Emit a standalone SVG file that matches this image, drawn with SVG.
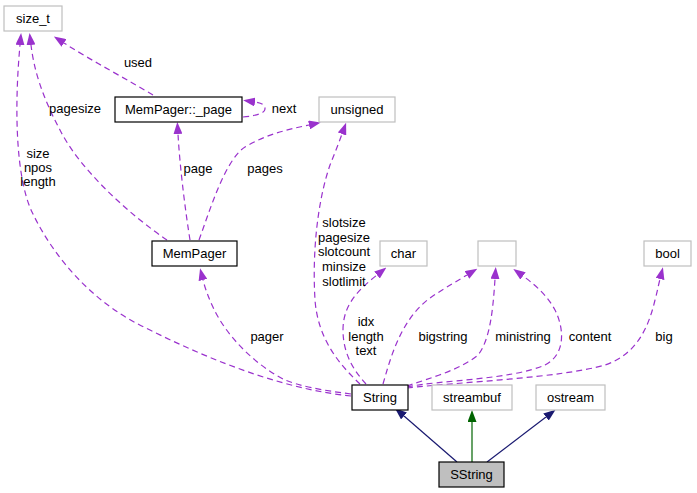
<svg xmlns="http://www.w3.org/2000/svg" width="697" height="493" viewBox="0 0 697 493">
<style>
text{font-family:"Liberation Sans",Arial,sans-serif;font-size:13px;fill:#000;text-anchor:middle}
.ext{fill:#fff;stroke:#bfbfbf;stroke-width:1.2}
.cls{fill:#fff;stroke:#000;stroke-width:1.2}
.cur{fill:#bfbfbf;stroke:#000;stroke-width:1.2}
.use{fill:none;stroke:#9a32cd;stroke-width:1.2;stroke-dasharray:6,4;marker-end:url(#ap)}
.pub{fill:none;stroke:#191970;stroke-width:1.2;marker-end:url(#an)}
.prot{fill:none;stroke:#006400;stroke-width:1.2;marker-end:url(#ag)}
</style>
<defs>
<marker id="ap" viewBox="0 0 12 9" refX="0" refY="4.5" markerWidth="12" markerHeight="9" markerUnits="userSpaceOnUse" orient="auto"><path d="M0,0 L12,4.5 L0,9 z" fill="#9a32cd"/></marker>
<marker id="an" viewBox="0 0 12 9" refX="0" refY="4.5" markerWidth="12" markerHeight="9" markerUnits="userSpaceOnUse" orient="auto"><path d="M0,0 L12,4.5 L0,9 z" fill="#191970"/></marker>
<marker id="ag" viewBox="0 0 12 9" refX="0" refY="4.5" markerWidth="12" markerHeight="9" markerUnits="userSpaceOnUse" orient="auto"><path d="M0,0 L12,4.5 L0,9 z" fill="#006400"/></marker>
</defs>
<rect width="697" height="493" fill="#fff"/>
<g id="edges">
<path class="use" d="M351,396 C290,390 220,365 150,330 C95,305 55,260 32,212 C16,178 14,110 20,45"/>
<path class="use" d="M167,240 C130,215 80,170 60,130 C42,96 34,70 31,45"/>
<path class="use" d="M153,95 C130,81 92,61 64,43"/>
<path class="use" d="M243,117 C256,116 265,113 265,109 C265,105 262,103 255,102"/>
<path class="use" d="M190,240 C186,215 180,170 178,134"/>
<path class="use" d="M199,240 C210,210 225,160 245,147 C265,135 285,130 309,125"/>
<path class="use" d="M360,384 C340,365 318,340 315,300 C312,250 318,200 330,165 C334,155 338,145 342,134"/>
<path class="use" d="M366,384 C355,372 343,355 343,330 C343,305 358,290 377,275"/>
<path class="use" d="M351,394 C320,390 300,386 285,380 C255,365 225,335 212,305 C208,296 205,288 203,280"/>
<path class="use" d="M383,384 C390,360 400,320 430,298 C440,291 452,284 467,275"/>
<path class="use" d="M407,386 C430,378 460,370 478,355 C490,340 493,310 495,279"/>
<path class="use" d="M407,387 C440,380 510,380 545,365 C565,355 565,330 555,310 C548,297 538,287 523,276"/>
<path class="use" d="M407,388 C460,382 560,378 605,365 C635,355 648,330 655,300 C657,293 658,287 660,279"/>
<path class="pub" d="M457,462 L404,416"/>
<path class="prot" d="M472,462 L472,422"/>
<path class="pub" d="M487,462 L546,417"/>
<text x="138" y="67">used</text>
<text x="75" y="113">pagesize</text>
<text x="284" y="113">next</text>
<text x="38" y="158">size</text>
<text x="38" y="172">npos</text>
<text x="38" y="186">length</text>
<text x="198" y="173">page</text>
<text x="265" y="173">pages</text>
<text x="344" y="227">slotsize</text>
<text x="344" y="241.5">pagesize</text>
<text x="344" y="256">slotcount</text>
<text x="344" y="271">minsize</text>
<text x="344" y="285.5">slotlimit</text>
<text x="366" y="326">idx</text>
<text x="366" y="340.5">length</text>
<text x="366" y="355">text</text>
<text x="267" y="341">pager</text>
<text x="443" y="341">bigstring</text>
<text x="523" y="341">ministring</text>
<text x="590" y="341">content</text>
<text x="664" y="341">big</text>
</g>
<g id="size_t"><rect class="ext" x="4" y="6" width="58" height="25"/><text x="33" y="23">size_t</text></g>
<g id="mempager_page"><rect class="cls" x="115" y="97" width="127" height="25"/><text x="178.5" y="114">MemPager::_page</text></g>
<g id="unsigned"><rect class="ext" x="319" y="97" width="76" height="25"/><text x="357" y="114">unsigned</text></g>
<g id="mempager"><rect class="cls" x="152" y="241" width="85" height="25"/><text x="194.5" y="258">MemPager</text></g>
<g id="char"><rect class="ext" x="380" y="241" width="47" height="25"/><text x="403.5" y="258">char</text></g>
<g id="blank"><rect class="ext" x="478" y="241" width="38" height="25"/></g>
<g id="bool"><rect class="ext" x="644" y="241" width="47" height="25"/><text x="667.5" y="258">bool</text></g>
<g id="string"><rect class="cls" x="352" y="385" width="56" height="25"/><text x="380" y="402">String</text></g>
<g id="streambuf"><rect class="ext" x="432" y="385" width="80" height="25"/><text x="472" y="402">streambuf</text></g>
<g id="ostream"><rect class="ext" x="536" y="385" width="69" height="25"/><text x="570.5" y="402">ostream</text></g>
<g id="sstring"><rect class="cur" x="439" y="462" width="65" height="25"/><text x="471.5" y="479">SString</text></g>
</svg>
